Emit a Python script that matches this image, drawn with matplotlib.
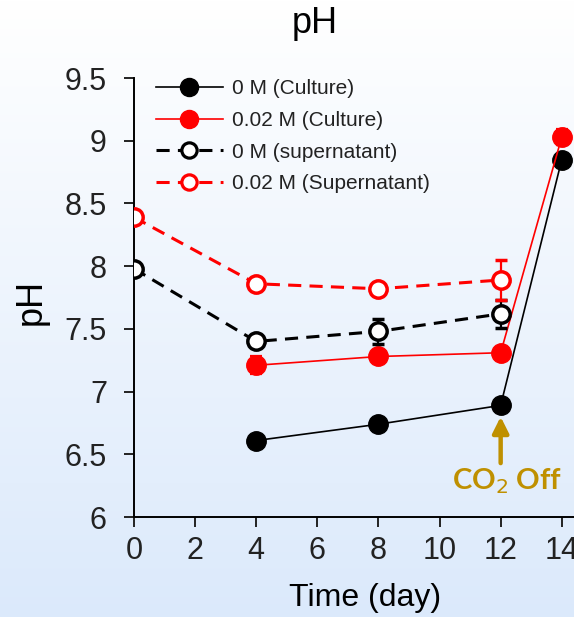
import numpy as np
import matplotlib

matplotlib.use("Agg")
import matplotlib.pyplot as plt
from matplotlib.lines import Line2D

plt.rcParams["font.family"] = ["Liberation Sans", "DejaVu Sans"]

days_culture = [4, 8, 12, 14]
ph_0m_culture = [6.61, 6.74, 6.89, 8.85]
err_0m_culture = [0.02, 0.02, 0.02, 0.03]
ph_002m_culture = [7.21, 7.28, 7.31, 9.03]
err_002m_culture = [0.07, 0.03, 0.02, 0.06]

days_super = [0, 4, 8, 12]
ph_0m_super = [7.98, 7.40, 7.48, 7.62]
err_0m_super = [0.02, 0.03, 0.10, 0.11]
ph_002m_super = [8.39, 7.86, 7.82, 7.89]
err_002m_super = [0.02, 0.02, 0.02, 0.16]

labels = ["0 M (Culture)", "0.02 M (Culture)", "0 M (supernatant)", "0.02 M (Supernatant)"]
x_ticks = [0, 2, 4, 6, 8, 10, 12, 14]
y_ticks = [6, 6.5, 7, 7.5, 8, 8.5, 9, 9.5]
y_tick_labels = ["6", "6.5", "7", "7.5", "8", "8.5", "9", "9.5"]

RED = "#ff0000"
GOLD = "#bf9000"
DASH = (0, (4.3, 2.7))

fig = plt.figure(figsize=(5.74, 6.17), dpi=100)

# background gradient: white at top, light blue at bottom
bg = fig.add_axes([0, 0, 1, 1], zorder=-10)
grad = np.linspace(0, 1, 256).reshape(-1, 1)
top = np.array([1.0, 1.0, 1.0])
bottom = np.array([0.86, 0.915, 0.985])
img = top + (bottom - top) * grad[..., None]
bg.imshow(img, aspect="auto", extent=[0, 1, 0, 1], origin="upper")
bg.axis("off")

ax = fig.add_axes([0.2334, 0.162, 0.7666, 0.7115])
ax.patch.set_alpha(0)

err_style = dict(capsize=4.5, elinewidth=1.6, capthick=1.6)
ax.errorbar(days_culture, ph_0m_culture, yerr=err_0m_culture, color="black",
            lw=1.2, marker="o", ms=14, mfc="black", mec="black", zorder=4,
            **err_style)
ax.errorbar(days_culture, ph_002m_culture, yerr=err_002m_culture, color=RED,
            lw=1.2, marker="o", ms=14, mfc=RED, mec=RED, zorder=4,
            **err_style)
ax.errorbar(days_super, ph_0m_super, yerr=err_0m_super, color="black",
            lw=2.2, ls=DASH, marker="o", ms=12.5, mfc="white", mec="black",
            mew=2.5, zorder=5, **err_style)
ax.errorbar(days_super, ph_002m_super, yerr=err_002m_super, color=RED,
            lw=2.2, ls=DASH, marker="o", ms=12.5, mfc="white", mec=RED,
            mew=2.5, zorder=5, **err_style)

handles = [
    Line2D([], [], color="black", lw=1.2, marker="o", ms=13, mfc="black"),
    Line2D([], [], color=RED, lw=1.2, marker="o", ms=13, mfc=RED),
    Line2D([], [], color="black", lw=2.2, ls=DASH, marker="o", ms=11,
           mfc="white", mec="black", mew=2.3),
    Line2D([], [], color=RED, lw=2.2, ls=DASH, marker="o", ms=11,
           mfc="white", mec=RED, mew=2.3),
]

ax.set_xlim(0, 14.4)
ax.set_ylim(6, 9.5)
ax.set_xticks(x_ticks)
ax.set_yticks(y_ticks)
ax.set_yticklabels(y_tick_labels)
ax.tick_params(labelsize=22, length=7.5, width=1.4, direction="out",
               colors="#222222")
ax.tick_params(axis="y", pad=12)
ax.tick_params(axis="x", pad=6)
for side in ("top", "right"):
    ax.spines[side].set_visible(False)
for side in ("left", "bottom"):
    ax.spines[side].set_linewidth(1.4)

ax.set_xlabel("Time (day)", fontsize=23, va="center")
ax.xaxis.set_label_coords(0.525, -0.185)
ax.set_ylabel("pH", fontsize=26, va="center")
ax.yaxis.set_label_coords(-0.234, 0.49)
fig.text(0.549, 0.962, "pH", ha="center", va="center", fontsize=26)

ax.legend(handles, labels, loc="upper left", bbox_to_anchor=(0.031, 1.016),
          frameon=False, fontsize=15, handlelength=3.2, handletextpad=0.45,
          labelspacing=0.61, borderaxespad=0, labelcolor="#222222")

ax.annotate("", xy=(12, 6.80), xytext=(12, 6.43),
            arrowprops=dict(arrowstyle="-|>", color=GOLD, lw=3.2,
                            mutation_scale=24, shrinkA=0, shrinkB=0))
ax.text(12.2, 6.29, "CO$_2$ Off", color=GOLD, fontsize=21,
        fontweight="bold", family=["Lato", "DejaVu Sans"],
        ha="center", va="center")

fig.savefig("out.png", dpi=100)
